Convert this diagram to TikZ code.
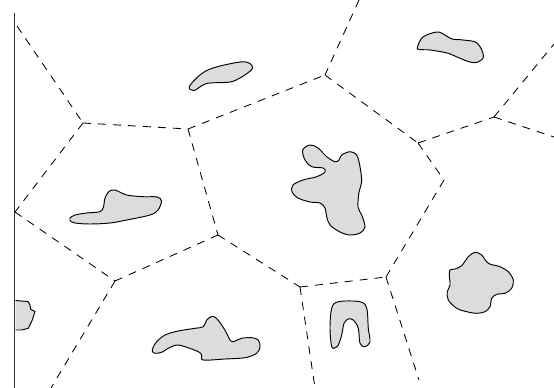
\documentclass[tikz,border=0pt]{standalone}
\definecolor{blobgray}{RGB}{220,220,220}
\begin{document}
\begin{tikzpicture}[x=1pt,y=-1pt,
  cell/.style={draw=black,line width=0.85pt,dash pattern=on 8pt off 7pt},
  blob/.style={draw=black,fill=blobgray,line width=0.95pt},
  wall/.style={draw=black!80,line width=1pt}]
\useasboundingbox (0,0) rectangle (554,388);
% Voronoi vertices
\coordinate (A) at (83,123);
\coordinate (B) at (188,129);
\coordinate (C) at (325,75);
\coordinate (D) at (418,143);
\coordinate (E) at (494,117);
\coordinate (F) at (15,212);
\coordinate (G) at (115,281);
\coordinate (H) at (218,235);
\coordinate (I) at (300,287);
\coordinate (J) at (386,277);
\coordinate (K) at (444,180);
% free ends
\coordinate (tA) at (17,26);
\coordinate (tC) at (359,0);
\coordinate (tE1) at (554,44);
\coordinate (tE2) at (554,137);
\coordinate (tG) at (51,388);
\coordinate (tI) at (315,388);
\coordinate (tJ) at (419,380);
\coordinate (w1) at (14,13);
\coordinate (w2) at (14,388);
% wall
\draw[wall] (w1) -- (w2);
% cell edges
\draw[cell] (tA) -- (A);
\draw[cell] (A) -- (B);
\draw[cell] (A) -- (F);
\draw[cell] (B) -- (C);
\draw[cell] (B) -- (H);
\draw[cell] (tC) -- (C);
\draw[cell] (C) -- (D);
\draw[cell] (D) -- (E);
\draw[cell] (E) -- (tE1);
\draw[cell] (E) -- (tE2);
\draw[cell] (D) -- (K);
\draw[cell] (K) -- (J);
\draw[cell] (F) -- (G);
\draw[cell] (G) -- (H);
\draw[cell] (G) -- (tG);
\draw[cell] (H) -- (I);
\draw[cell] (I) -- (J);
\draw[cell] (I) -- (tI);
\draw[cell] (J) -- (tJ);
% blobs
\draw[blob] plot[smooth cycle,tension=0.6] coordinates {
 (189.3,86.7) (200,75) (213,68) (240,62) (250,63.5) (252.5,68) (249,72) (240,78) (230,82) (210,83) (203,85) (194,90.5)};
\draw[blob] plot[smooth cycle,tension=0.6] coordinates {
 (417.5,47) (423,37) (437,32) (445,35) (452,39) (463,40) (477,43) (483.5,56) (478,62) (470,62) (457,57) (447,53) (430,50) (419,49.5)};
\draw[blob] plot[smooth cycle,tension=0.55] coordinates {
 (310,145) (302.7,150) (305,160) (311.7,166.7) (323,168) (325,172) (316.7,176.7) (303,180) (293,185) (292,192) (298,198) (310,202) (320,203) (325,208) (326.7,216.7) (330,225) (340,232) (350,235) (360,233) (365,227) (361.7,215) (358,207) (359,192) (361.7,181.7) (360,166.7) (356.7,155) (350,151.7) (341.7,155) (339,160) (335,161.7) (326.7,156.7) (318,148)};
\draw[blob] plot[smooth cycle,tension=0.55] coordinates {
 (70,218) (75,215) (86.7,213) (100,211.7) (103.5,206.7) (105,198) (109,191.5) (115,190) (126.7,195) (143,196.7) (157,197) (161.5,201) (158,210) (150,215) (126.7,220) (110,223) (90,224) (75,223) (70,220.5)};
\draw[blob] (15.5,300.5) -- (28,301.5) -- (30,305) -- (30.7,309.3) -- (35,311.5) -- (32.3,320) -- (28.3,328.3) -- (21.7,330) -- (15.5,330);
\draw[blob] plot[smooth cycle,tension=0.55] coordinates {
 (153.3,347) (156.7,341.7) (165,335) (178.3,331) (195,328.3) (203.3,326.7) (206.7,320) (211.7,316.5) (215.7,317.7) (221.7,325) (226.7,333.3) (230,340) (233.3,341.7) (241.7,338.3) (251.7,337.7) (258.3,340) (260,346.7) (256.7,353.3) (245,357.7) (225,359) (203.3,360) (201.7,355) (198.3,351.7) (185,346.7) (176.7,345) (168.3,348.3) (161.7,352.3) (155,353.3) (152.3,351)};
\draw[blob] plot[smooth cycle,tension=0.55] coordinates {
 (331.7,346.7) (330,328.3) (331.7,308.3) (338.3,301.7) (360,301.7) (366.7,308.3) (368.3,328.3) (370,341.7) (365,346.7) (360,343.3) (358.3,328.3) (353.3,320) (348.3,319) (344,323.3) (341.7,335) (338.3,345) (335,347.7)};
\draw[blob] plot[smooth cycle,tension=0.55] coordinates {
 (475,252.3) (481.7,255) (488.3,263.3) (500,266.7) (508.3,271.7) (513.3,280) (511.7,288.3) (505,293.3) (496.7,294.3) (491.7,298.3) (490,306.7) (485,311.7) (476.7,313.3) (466.7,311.7) (456.7,308.3) (448.3,300) (447.3,291.7) (450,285) (449.3,275) (450,270) (455,269) (461.7,265.7) (468.3,256.7)};
\end{tikzpicture}
\end{document}
